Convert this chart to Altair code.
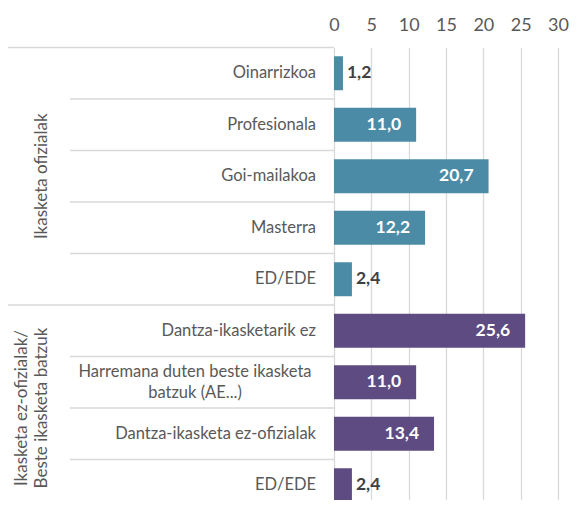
import altair as alt
import pandas as pd

# ---- data ----
groups = ["Ikasketa ofizialak"] * 5 + ["Ikasketa ez-ofizialak/\nBeste ikasketa batzuk"] * 4
categories = [
    "Oinarrizkoa",
    "Profesionala",
    "Goi-mailakoa",
    "Masterra",
    "ED/EDE",
    "Dantza-ikasketarik ez",
    "Harremana duten beste ikasketa\nbatzuk (AE...)",
    "Dantza-ikasketa ez-ofizialak",
    "ED/EDE",
]
values = [1.2, 11.0, 20.7, 12.2, 2.4, 25.6, 11.0, 13.4, 2.4]
x_ticks = [0, 5, 10, 15, 20, 25, 30]
group_colors = ["#4b8ba6", "#5d4b82"]

rows = [f"r{i}" for i in range(len(categories))]
df = pd.DataFrame({
    "row": rows,
    "order": list(range(len(categories))),
    "cat": categories,
    "group": groups,
    "value": values,
})
group_names = list(dict.fromkeys(groups))

# ---- layout (style only) ----
FONT = "Lato"
GREY = "#595959"
LINE = "#d9d9d9"
PAD_L, PAD_T = 326, 39.5
W = 224
ROW_H = 51.5
H = ROW_H * len(rows)
TOTAL_W, TOTAL_H = 562, 492
ORIGIN_X = 8 + PAD_L


def rel(page_x):
    return page_x - ORIGIN_X


x_axis = alt.Axis(orient="top", values=x_ticks, grid=True, gridColor=LINE, gridWidth=1.3,
                  domain=False, ticks=False, labelFont=FONT, labelFontSize=18,
                  labelColor=GREY, labelPadding=13, labelFlush=False, title=None)
X = alt.X("value:Q", scale=alt.Scale(domain=[0, 30], nice=False), axis=x_axis, title=None)
band_scale = alt.Scale(domain=rows, paddingInner=0, paddingOuter=0)
Y = alt.Y("row:N", sort=rows, scale=band_scale, axis=None)
Y_top = alt.Y("row:N", sort=rows, scale=band_scale, axis=None, bandPosition=0)

base = alt.Chart(df)

bars = base.mark_bar(height=alt.RelativeBandSize(0.66)).encode(
    x=X, y=Y,
    color=alt.Color("group:N", scale=alt.Scale(domain=group_names, range=group_colors), legend=None),
)

lab = base.transform_calculate(label="replace(format(datum.value, '.1f'), '.', ',')")
inside = lab.transform_filter("datum.value >= 5").mark_text(
    align="right", baseline="middle", dx=-15, font=FONT, fontSize=17.5,
    fontWeight="bold", color="white"
).encode(x=X, y=Y, text="label:N")
outside = lab.transform_filter("datum.value < 5").mark_text(
    align="left", baseline="middle", dx=4, font=FONT, fontSize=17.5,
    fontWeight="bold", color="#404040"
).encode(x=X, y=Y, text="label:N")

# category labels
single = base.transform_filter("indexof(datum.cat, '\\n') < 0").mark_text(
    align="right", baseline="middle", font=FONT, fontSize=16.5, color=GREY
).encode(x=alt.value(rel(316)), y=Y, text="cat:N")
multi = base.transform_filter("indexof(datum.cat, '\\n') >= 0").mark_text(
    align="center", baseline="middle", lineBreak="\n", lineHeight=21, dy=-10.5,
    font=FONT, fontSize=16.5, color=GREY
).encode(x=alt.value(rel(195)), y=Y, text="cat:N")

# separators
ranked = base.transform_window(rn="row_number()", groupby=["group"], sort=[alt.SortField("order")])
inner_rules = ranked.transform_filter("datum.rn > 1").mark_rule(color=LINE, strokeWidth=1.3).encode(
    y=Y_top, x=alt.value(rel(70)), x2=alt.value(0))
outer_rules = ranked.transform_filter("datum.rn == 1").mark_rule(color=LINE, strokeWidth=1.3).encode(
    y=Y_top, x=alt.value(rel(8)), x2=alt.value(0))

# group labels (rotated)
g_y = alt.Y("mid:Q", scale=alt.Scale(domain=[-0.5, len(rows) - 0.5], reverse=True, nice=False, zero=False),
            axis=None)
gbase = base.transform_aggregate(mid="mean(order)", groupby=["group"])
g_single = gbase.transform_filter("indexof(datum.group, '\\n') < 0").mark_text(
    angle=270, align="center", baseline="alphabetic",
    font=FONT, fontSize=17, color=GREY
).encode(y=g_y, x=alt.value(rel(47)), text="group:N")
g_multi = gbase.transform_filter("indexof(datum.group, '\\n') >= 0").mark_text(
    angle=270, align="center", baseline="alphabetic", lineBreak="\n", lineHeight=20,
    font=FONT, fontSize=17, color=GREY
).encode(y=g_y, x=alt.value(rel(27)), text="group:N")

chart = alt.layer(
    alt.layer(bars, inside, outside, single, multi, inner_rules, outer_rules),
    g_single, g_multi,
).resolve_scale(y="independent").properties(
    width=W, height=H,
    autosize=alt.AutoSizeParams(type="none"),
    padding={"left": PAD_L, "top": PAD_T, "right": TOTAL_W - PAD_L - W,
             "bottom": TOTAL_H - PAD_T - H},
).configure_view(stroke=None)

chart.save("out.html", embed_options={"renderer": "svg", "actions": False})
